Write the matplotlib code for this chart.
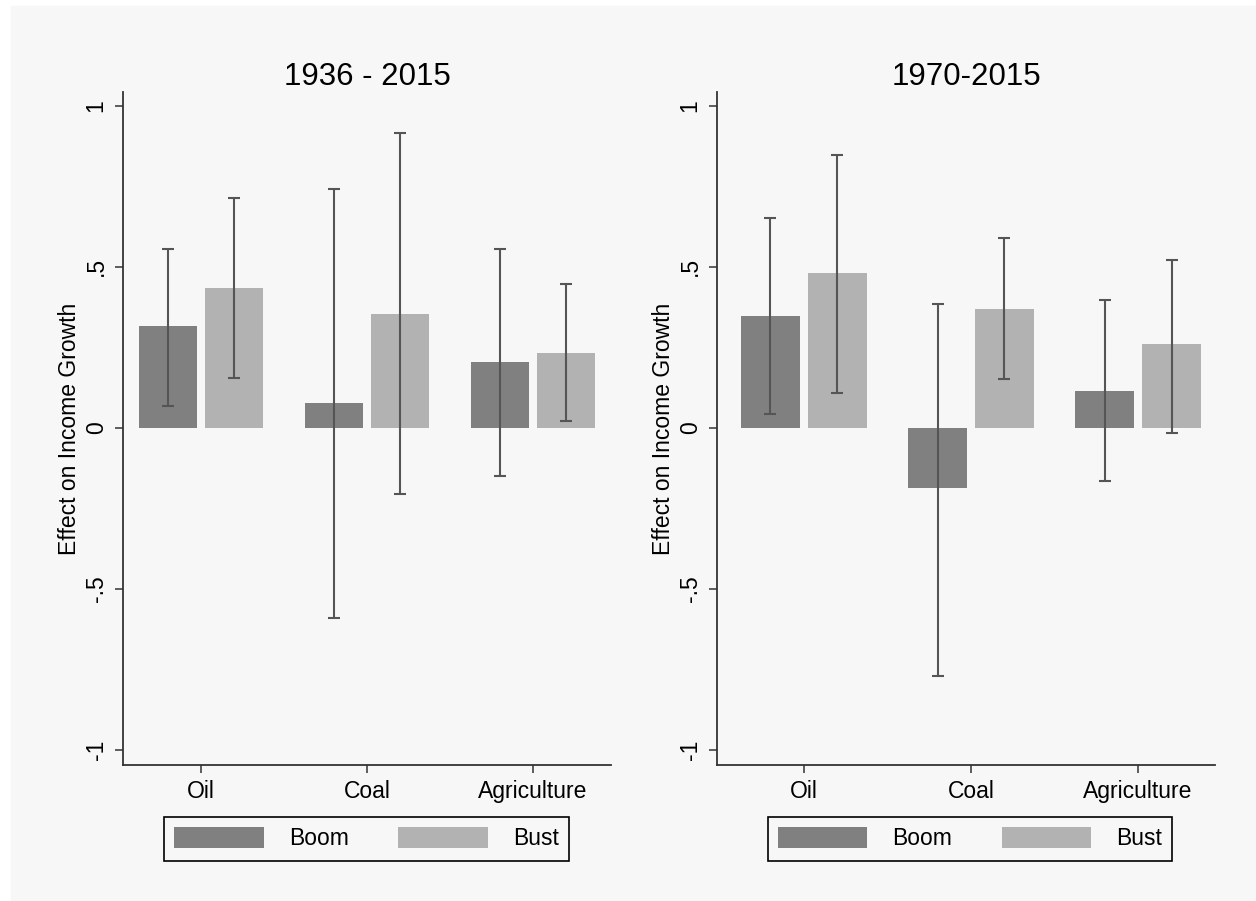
import matplotlib
matplotlib.use("Agg")
import matplotlib.pyplot as plt
from matplotlib.patches import Rectangle
import numpy as np

plt.rcParams["font.family"] = ["Liberation Sans", "DejaVu Sans"]

CATEGORIES = ["Oil", "Coal", "Agriculture"]
SERIES = ["Boom", "Bust"]

TITLES = ["1936 - 2015", "1970-2015"]

# point estimates, lower and upper CI bounds per panel
BOOM_1936 = [0.315, 0.078, 0.205]
BOOM_1936_LO = [0.068, -0.590, -0.149]
BOOM_1936_HI = [0.556, 0.742, 0.556]
BUST_1936 = [0.435, 0.355, 0.233]
BUST_1936_LO = [0.155, -0.205, 0.022]
BUST_1936_HI = [0.714, 0.916, 0.447]

BOOM_1970 = [0.348, -0.186, 0.115]
BOOM_1970_LO = [0.043, -0.770, -0.165]
BOOM_1970_HI = [0.652, 0.385, 0.398]
BUST_1970 = [0.481, 0.370, 0.261]
BUST_1970_LO = [0.109, 0.152, -0.016]
BUST_1970_HI = [0.848, 0.590, 0.522]

Y_TICKS = [-1, -0.5, 0, 0.5, 1]
Y_TICK_LABELS = ["-1", "-.5", "0", ".5", "1"]

COLORS = ["#808080", "#b2b2b2"]
ERR_COLOR = "#555555"
BG = "#f7f7f7"

W, H = 1256, 901


def draw_panel(ax, title, boom, boom_lo, boom_hi, bust, bust_lo, bust_hi, xlim):
    x = np.arange(1, len(CATEGORIES) + 1)
    offset = 0.2
    width = 0.352
    handles = []
    for vals, lo, hi, shift, color, label in [
        (boom, boom_lo, boom_hi, -offset, COLORS[0], SERIES[0]),
        (bust, bust_lo, bust_hi, offset, COLORS[1], SERIES[1]),
    ]:
        vals = np.asarray(vals)
        h = ax.bar(x + shift, vals, width=width, color=color, label=label, zorder=2)
        handles.append(h)
        yerr = np.vstack([vals - np.asarray(lo), np.asarray(hi) - vals])
        ax.errorbar(x + shift, vals, yerr=yerr, fmt="none", ecolor=ERR_COLOR,
                    elinewidth=1.5, capsize=4.3, capthick=1.5, zorder=3)

    ax.set_xlim(*xlim)
    ax.set_ylim(-1.047, 1.043)
    ax.set_xticks(x)
    ax.set_xticklabels(CATEGORIES, fontsize=16.5)
    ax.set_yticks(Y_TICKS)
    ax.set_yticklabels(Y_TICK_LABELS, fontsize=16.5, rotation=90, va="center")
    ax.tick_params(axis="both", length=6, width=1.1, color="#333333", pad=5)
    ax.set_ylabel("Effect on Income Growth", fontsize=16.5, labelpad=3)
    ax.set_title(title, fontsize=22.5, pad=4)
    for side in ("top", "right"):
        ax.spines[side].set_visible(False)
    for side in ("left", "bottom"):
        ax.spines[side].set_linewidth(1.3)
        ax.spines[side].set_color("#333333")
    ax.set_facecolor("none")
    return handles


def main():
    fig = plt.figure(figsize=(W / 100, H / 100), dpi=100)
    fig.patch.set_facecolor("white")
    fig.patches.append(Rectangle((11 / W, 0), 1 - 11 / W, (H - 6) / H,
                                 transform=fig.transFigure, color=BG, zorder=-10))

    bottom = (H - 765) / H
    height = (765 - 92) / H
    ax1 = fig.add_axes([123 / W, bottom, 488 / W, height])
    ax2 = fig.add_axes([717 / W, bottom, 498 / W, height])

    panels = [
        (ax1, TITLES[0], BOOM_1936, BOOM_1936_LO, BOOM_1936_HI,
         BUST_1936, BUST_1936_LO, BUST_1936_HI, (0.53, 3.47), 0.499),
        (ax2, TITLES[1], BOOM_1970, BOOM_1970_LO, BOOM_1970_HI,
         BUST_1970, BUST_1970_LO, BUST_1970_HI, (0.48, 3.46), 0.508),
    ]
    for ax, title, b, blo, bhi, s, slo, shi, xlim, lx in panels:
        handles = draw_panel(ax, title, b, blo, bhi, s, slo, shi, xlim)
        leg = ax.legend(handles, SERIES, loc="upper center",
                        bbox_to_anchor=(lx, -0.0773), ncol=2, fontsize=16.5,
                        frameon=True, fancybox=False, edgecolor="black",
                        facecolor=BG, framealpha=1, handlelength=3.9,
                        handleheight=1.0, handletextpad=1.1,
                        columnspacing=2.15, borderpad=0.45, borderaxespad=0)
        leg.get_frame().set_linewidth(1.2)

    fig.savefig("out.png", dpi=100, facecolor=fig.get_facecolor())


if __name__ == "__main__":
    main()
